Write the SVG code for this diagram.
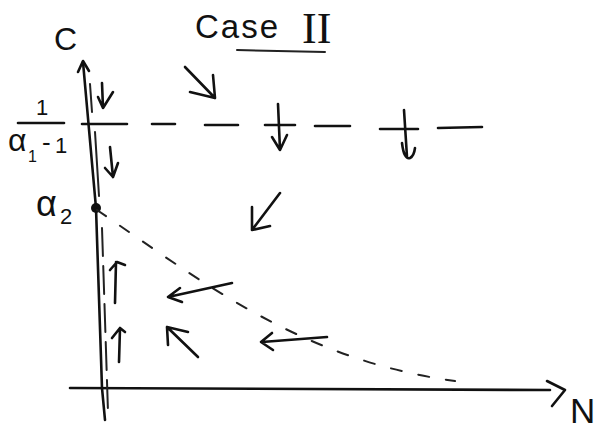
<svg xmlns="http://www.w3.org/2000/svg" width="607" height="431" viewBox="0 0 607 431">
<style>
.ink{fill:none;stroke:#111;stroke-width:2.6;stroke-linecap:round;stroke-linejoin:round}
.thin{fill:none;stroke:#222;stroke-width:2;stroke-linecap:round}
.t{font-family:"Liberation Sans",Arial,sans-serif;fill:#111}
.s{font-family:"Liberation Serif","Times New Roman",serif;fill:#111}
</style>
<rect width="607" height="431" fill="#fff"/>
<g id="title">
<text class="t" x="195" y="38" font-size="33" letter-spacing="2">Case</text>
<text class="s" x="302" y="43" font-size="44">II</text>
<path class="thin" d="M237,50 L325,52"/>
</g>
<g id="labels">
<text class="t" x="54" y="50" font-size="32">C</text>
<text class="t" x="36" y="115" font-size="22">1</text>
<path class="ink" d="M18,123 L64,123"/>
<text class="t" x="8" y="151" font-size="32">α</text>
<text class="t" x="28" y="162" font-size="16">1</text>
<text class="t" x="42" y="151" font-size="26">-</text>
<text class="t" x="55" y="153" font-size="22">1</text>
<text class="t" x="36" y="216" font-size="36">α</text>
<text class="t" x="60" y="224" font-size="22">2</text>
<text class="t" x="570" y="423" font-size="35">N</text>
</g>
<g id="axes">
<path class="ink" d="M83,62 L96,208 L102,388 L105,420"/>
<path class="ink" d="M78,72 L83,61 L89,71"/>
<path class="ink" d="M70,388 L550,390"/>
<path class="ink" d="M547,381 L565,390 L552,406"/>
</g>
<g id="invariant">
<path class="thin" d="M90,84 L92,112"/>
<path class="thin" d="M95,132 L99,196"/>
<path class="thin" d="M102,228 L108,412" stroke-dasharray="28 10"/>
<circle cx="96" cy="208" r="5" fill="#111"/>
</g>
<g id="separatrix">
<path class="ink" d="M82,124 L127,124 M152,124 L175,124 M205,125 L238,125 M265,125 L295,125 M315,126 L350,126 M380,129 L418,129 M438,128 L482,127"/>
<path class="thin" d="M97,210 C200,280 300,360 455,381" stroke-dasharray="11 17"/>
</g>
<g id="connectors">
<path class="ink" d="M102,83 L103,108 M98,97 L103,108 L113,92"/>
<path class="ink" d="M110,147 L113,177 M105,168 L113,177 L118,163"/>
<path class="ink" d="M115,303 L116,262 M110,270 L117,262 L125,265"/>
<path class="ink" d="M119,362 L120,328 M112,338 L120,328 L125,332"/>
<path class="ink" d="M278,104 L280,150 M272,137 L280,150 L287,135"/>
<path class="ink" d="M404,110 L407,157 M402,143 Q404,160 410,158 Q414,156 415,148"/>
<path class="ink" d="M185,67 L215,98 M190,92 L215,98 L213,75"/>
<path class="ink" d="M280,193 L252,230 M270,226 L252,230 L252,207"/>
<path class="ink" d="M232,283 L168,297 M180,288 L168,297 L182,302"/>
<path class="ink" d="M198,357 L167,327 M188,332 L167,327 L168,345"/>
<path class="ink" d="M327,337 L262,342 M272,333 L261,342 L273,350"/>
</g>
</svg>
